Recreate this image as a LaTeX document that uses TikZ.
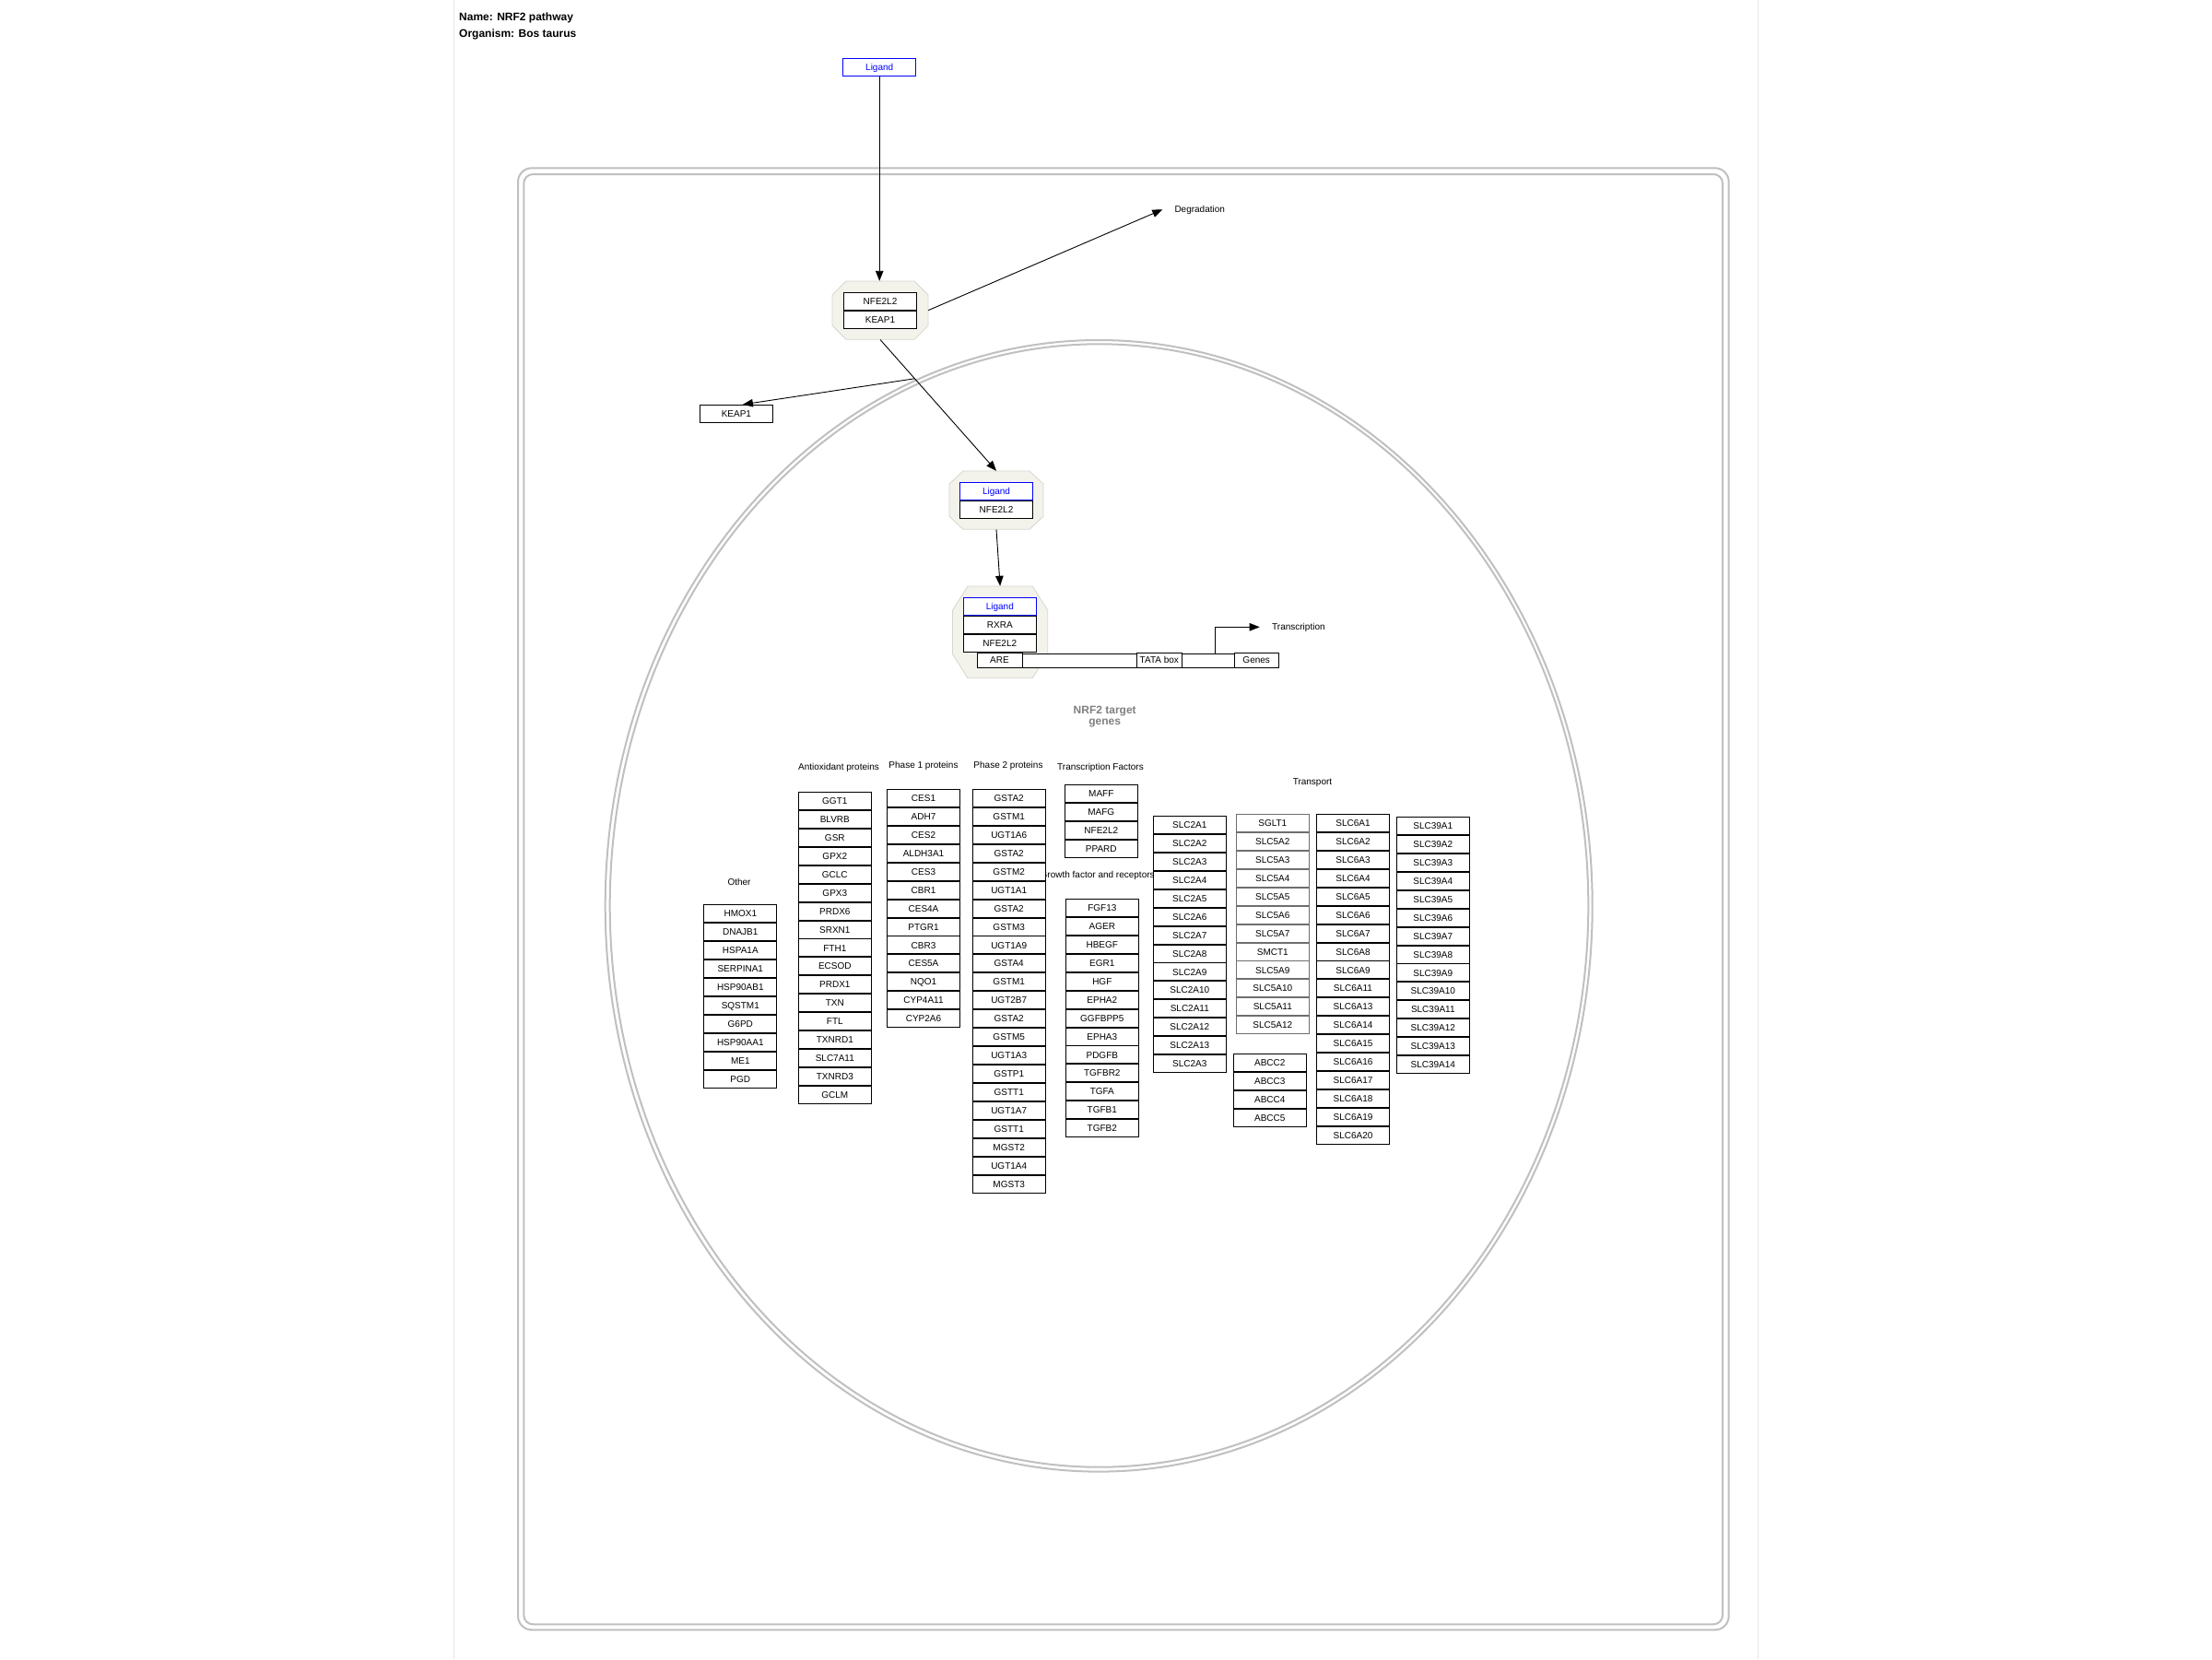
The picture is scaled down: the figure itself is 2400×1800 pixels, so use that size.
\documentclass[tikz,border=0pt]{standalone}
\usepackage{fontspec}
\setmainfont{Liberation Sans}
\usetikzlibrary{arrows.meta,calc}
\definecolor{framegray}{RGB}{192,192,192}
\definecolor{pagegray}{RGB}{230,230,230}
\definecolor{cxfill}{RGB}{243,243,236}
\definecolor{cxdraw}{RGB}{214,214,208}
\definecolor{ligblue}{RGB}{0,0,255}
\definecolor{titlegray}{RGB}{128,128,128}
\definecolor{sgltgray}{RGB}{110,110,110}
\tikzset{
 lbl/.style={inner sep=0pt, font=\fontsize{10}{12}\selectfont, text height=7.2pt, text depth=0pt},
 gene/.style={lbl, draw=black, line width=0.9pt, fill=white, minimum width=79pt, minimum height=19pt},
 sglt/.style={gene, draw=sgltgray},
 ligbox/.style={gene, draw=ligblue, text=ligblue},
 arr/.style={draw=black, line width=0.9pt, -{Triangle[length=11pt,width=8.5pt]}},
 bigframe/.style={draw=framegray, line width=2pt},
 octa/.style={fill=cxfill, draw=cxdraw, line width=0.8pt},
 hdr/.style={inner sep=0pt, anchor=west, font=\bfseries\fontsize{12}{14}\selectfont, text height=8.6pt, text depth=0pt},
 cxbox/.style={inner sep=0pt, draw=none},
}
\newcommand{\GeneColumn}[5]{%
  \foreach \g [count=\i from 0] in {#5} {
    \node[#4] (#1-\i) at (#2, {#3+9.5+\i*19.95}) {\g};
  }%
}
\newcommand{\Octa}[6]{%
  \path[octa] ({#1+#5},#2) -- ({#3-#5},#2) -- (#3,{#2+#6}) -- (#3,{#4-#6}) -- ({#3-#5},#4) -- ({#1+#5},#4) -- (#1,{#4-#6}) -- (#1,{#2+#6}) -- cycle;%
}
\begin{document}
\begin{tikzpicture}[x=1pt,y=-1pt]
\useasboundingbox (0,0) rectangle (2400,1800);
\fill[white] (0,0) rectangle (2400,1800);
\draw[pagegray, line width=1pt] (492.3,0) -- (492.3,1800);
\draw[pagegray, line width=1pt] (1907.3,0) -- (1907.3,1800);
\node[hdr] (name) at (498,18.3) {Name: NRF2 pathway};
\node[hdr] (org) at (498,36) {Organism: Bos taurus};
% cell
\draw[bigframe, rounded corners=15pt] (562,182.3) rectangle (1875.7,1768.3);
\draw[bigframe, rounded corners=10pt] (568.3,189) rectangle (1869,1762.3);
% nucleus
\draw[bigframe] (1192.2,982.8) ellipse [x radius=535.5pt, y radius=613.8pt];
\draw[bigframe] (1192.5,982.5) ellipse [x radius=530.8pt, y radius=609.2pt];
% top ligand
\node[ligbox] (lig) at (954.2,72.8) {Ligand};
% complex 1
\Octa{903}{305}{1007}{368.3}{15}{15}
\node[cxbox, minimum width=104pt, minimum height=63.3pt] (cx1) at (955,336.65) {};
\node[gene] (c1a) at (955,326.7) {NFE2L2};
\node[gene] (c1b) at (955,346.7) {KEAP1};
% complex 2
\Octa{1030}{511}{1132}{574.3}{15}{14}
\node[cxbox, minimum width=102pt, minimum height=63.3pt] (cx2) at (1081,542.65) {};
\node[ligbox] (c2a) at (1081,533) {Ligand};
\node[gene] (c2b) at (1081,553) {NFE2L2};
% complex 3
\Octa{1033.5}{636}{1136.7}{735.7}{16.5}{26}
\node[cxbox, minimum width=103.2pt, minimum height=99.7pt] (cx3) at (1085.1,685.85) {};
\node[ligbox] (c3a) at (1084.8,658.3) {Ligand};
\node[gene] (c3b) at (1084.8,678.3) {RXRA};
\node[gene] (c3c) at (1084.8,698.3) {NFE2L2};
% gene bar
\node[draw, line width=0.9pt, fill=white, minimum width=327pt, minimum height=15.5pt, inner sep=0pt, anchor=north west] (bar) at (1060,708.5) {};
\node[gene, minimum width=49pt, minimum height=15.5pt] (are) at (1084.5,716.25) {ARE};
\node[gene, minimum width=49pt, minimum height=15.5pt] (tata) at (1257.8,716.25) {TATA box};
\node[gene, minimum width=48pt, minimum height=15.5pt] (genes) at (1363.2,716.25) {Genes};
\node[lbl, anchor=west] (trl) at (1380,680.3) {Transcription};
\draw[arr] ([xshift=258.3pt]bar.north west) |- ([xshift=-13.3pt]trl.west);
% other upper nodes
\node[lbl, anchor=west] (deg) at (1274.3,227.3) {Degradation};
\node[gene] (k1) at (798.9,448.8) {KEAP1};
% connectors
\draw[arr] (lig.south) -- (lig.south |- cx1.north);
\draw[arr] (cx1.east) -- ([xshift=-13pt]deg.west);
\draw[arr] (cx1.south) -- (cx2.north);
\coordinate (br) at ($(cx1.south)!0.297!(cx2.north)$);
\draw[arr] (br) -- ([xshift=7pt]k1.north);
\draw[arr] (cx2.south) -- (cx3.north);
% title
\node[inner sep=0pt, anchor=north, align=center, text=titlegray, font=\bfseries\fontsize{12}{12.5}\selectfont] (nrf) at (1198.7,765.7) {NRF2 target\\genes};
% headings
\node[lbl] (hOther) at (802,957) {Other};
\node[lbl] (hAnti) at (910,831.7) {Antioxidant proteins};
\node[lbl] (hPh1) at (1002,830) {Phase 1 proteins};
\node[lbl] (hPh2) at (1094,830) {Phase 2 proteins};
\node[lbl] (hTF) at (1194,832.3) {Transcription Factors};
\node[lbl, anchor=west] (hGF) at (1128.5,949.3) {Growth factor and receptors};
\node[lbl] (hTr) at (1424,848) {Transport};
% columns
\GeneColumn{oth}{803.3}{981.7}{gene}{HMOX1,DNAJB1,HSPA1A,SERPINA1,HSP90AB1,SQSTM1,G6PD,HSP90AA1,ME1,PGD}
\GeneColumn{anti}{905.8}{859.3}{gene}{GGT1,BLVRB,GSR,GPX2,GCLC,GPX3,PRDX6,SRXN1,FTH1,ECSOD,PRDX1,TXN,FTL,TXNRD1,SLC7A11,TXNRD3,GCLM}
\GeneColumn{ph1}{1002}{856.3}{gene}{CES1,ADH7,CES2,ALDH3A1,CES3,CBR1,CES4A,PTGR1,CBR3,CES5A,NQO1,CYP4A11,CYP2A6}
\GeneColumn{ph2}{1094.7}{856.3}{gene}{GSTA2,GSTM1,UGT1A6,GSTA2,GSTM2,UGT1A1,GSTA2,GSTM3,UGT1A9,GSTA4,GSTM1,UGT2B7,GSTA2,GSTM5,UGT1A3,GSTP1,GSTT1,UGT1A7,GSTT1,MGST2,UGT1A4,MGST3}
\GeneColumn{tf}{1194.8}{851.3}{gene}{MAFF,MAFG,NFE2L2,PPARD}
\GeneColumn{gf}{1195.8}{975.3}{gene}{FGF13,AGER,HBEGF,EGR1,HGF,EPHA2,GGFBPP5,EPHA3,PDGFB,TGFBR2,TGFA,TGFB1,TGFB2}
\GeneColumn{slctwo}{1290.8}{885.3}{gene}{SLC2A1,SLC2A2,SLC2A3,SLC2A4,SLC2A5,SLC2A6,SLC2A7,SLC2A8,SLC2A9,SLC2A10,SLC2A11,SLC2A12,SLC2A13,SLC2A3}
\GeneColumn{slcfive}{1380.8}{883.3}{sglt}{SGLT1,SLC5A2,SLC5A3,SLC5A4,SLC5A5,SLC5A6,SLC5A7,SMCT1,SLC5A9,SLC5A10,SLC5A11,SLC5A12}
\GeneColumn{abcc}{1377.8}{1143.3}{gene}{ABCC2,ABCC3,ABCC4,ABCC5}
\GeneColumn{slcsix}{1468}{883.3}{gene}{SLC6A1,SLC6A2,SLC6A3,SLC6A4,SLC6A5,SLC6A6,SLC6A7,SLC6A8,SLC6A9,SLC6A11,SLC6A13,SLC6A14,SLC6A15,SLC6A16,SLC6A17,SLC6A18,SLC6A19,SLC6A20}
\GeneColumn{slcnine}{1554.8}{886.3}{gene}{SLC39A1,SLC39A2,SLC39A3,SLC39A4,SLC39A5,SLC39A6,SLC39A7,SLC39A8,SLC39A9,SLC39A10,SLC39A11,SLC39A12,SLC39A13,SLC39A14}
\end{tikzpicture}
\end{document}
